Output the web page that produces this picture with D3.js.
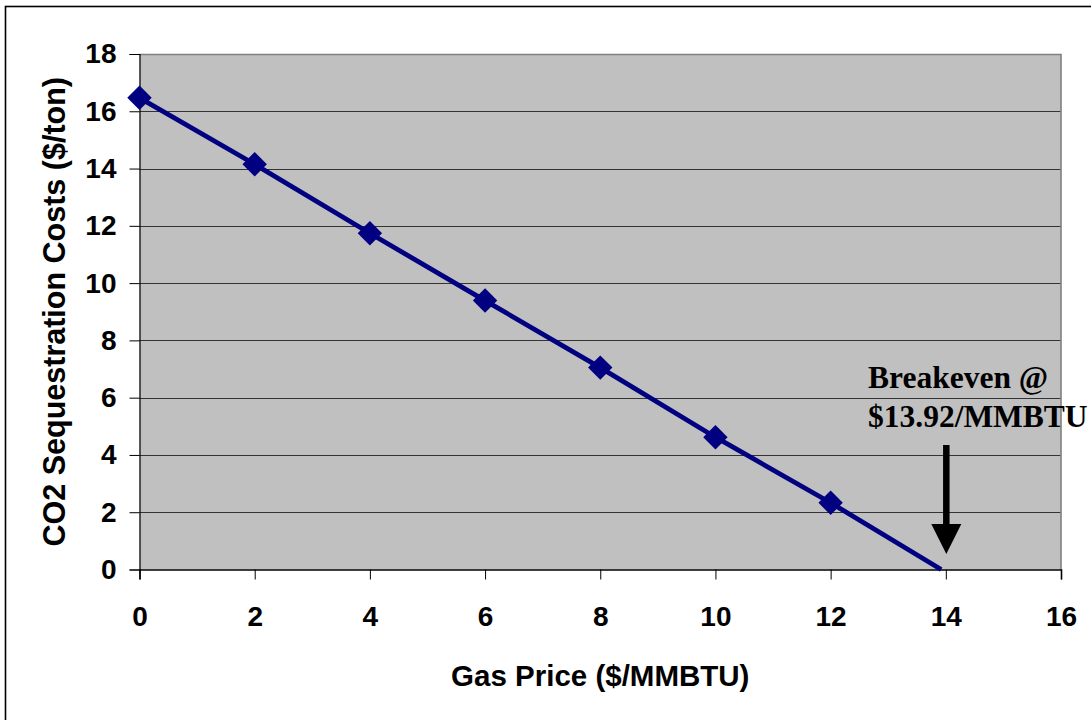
<!DOCTYPE html>
<html>
<head>
<meta charset="utf-8">
<script src="https://cdn.jsdelivr.net/npm/d3@7"></script>
<style>
  html, body { margin: 0; padding: 0; background: #fff; }
  svg { display: block; }
</style>
</head>
<body>
<svg id="chart" width="1091" height="720"></svg>
<script>
// Gas price (x) vs. CO2 sequestration cost (y)
const gasPrice = [0, 2, 4, 6, 8, 10, 12];
const seqCost = [16.47, 14.15, 11.74, 9.39, 7.05, 4.62, 2.33];
const breakevenPrice = 13.92;
const breakevenCost = 0;
const xTicks = [0, 2, 4, 6, 8, 10, 12, 14, 16];
const yTicks = [0, 2, 4, 6, 8, 10, 12, 14, 16, 18];
const xTitle = "Gas Price ($/MMBTU)";
const yTitle = "CO2 Sequestration Costs ($/ton)";
const noteLines = ["Breakeven @", "$13.92/MMBTU"];

const svg = d3.select("#chart");
const W = 1091, H = 720;
const plot = { left: 139.5, right: 1061, top: 54, bottom: 569.5 };
const sans = "Liberation Sans, Arial, sans-serif";

const x = d3.scaleLinear().domain([0, 16]).range([plot.left, plot.right]);
const y = d3.scaleLinear().domain([0, 18]).range([plot.bottom, plot.top]);

// outer chart frame
svg.append("rect")
  .attr("x", 5.5).attr("y", 6.5)
  .attr("width", W + 10).attr("height", H + 10)
  .attr("fill", "#fff").attr("stroke", "#000").attr("stroke-width", 1.6);

// plot background
svg.append("rect")
  .attr("x", plot.left).attr("y", plot.top)
  .attr("width", plot.right - plot.left).attr("height", plot.bottom - plot.top)
  .attr("fill", "#c0c0c0");

// horizontal gridlines
svg.append("g")
  .selectAll("line")
  .data(yTicks.filter(d => d > 0 && d < 18))
  .join("line")
  .attr("x1", plot.left).attr("x2", plot.right)
  .attr("y1", d => Math.round(y(d)) + 0.5).attr("y2", d => Math.round(y(d)) + 0.5)
  .attr("stroke", "#333").attr("stroke-width", 1);

// plot border (top / right) in grey
svg.append("path")
  .attr("d", `M${plot.left},${plot.top + 0.5}H${plot.right}V${plot.bottom}`)
  .attr("fill", "none").attr("stroke", "#808080").attr("stroke-width", 1.6);

// y axis
const yAxis = d3.axisLeft(y).tickValues(yTicks).tickSize(10).tickPadding(13).tickFormat(d3.format("d"));
const gy = svg.append("g").attr("transform", `translate(${plot.left},0)`).call(yAxis);
gy.select(".domain").attr("stroke", "#000").attr("stroke-width", 1.2);
gy.selectAll(".tick line").attr("stroke", "#000").attr("stroke-width", 1);
gy.selectAll(".tick text")
  .attr("font-family", sans)
  .attr("font-weight", "bold").attr("font-size", 28).attr("fill", "#000");

// x axis
const xAxis = d3.axisBottom(x).tickValues(xTicks).tickSize(10).tickPadding(27).tickFormat(d3.format("d"));
const gx = svg.append("g").attr("transform", `translate(0,${plot.bottom})`).call(xAxis);
gx.select(".domain").attr("stroke", "#000").attr("stroke-width", 1.6);
gx.selectAll(".tick line").attr("stroke", "#000").attr("stroke-width", 1);
gx.selectAll(".tick text")
  .attr("font-family", sans)
  .attr("font-weight", "bold").attr("font-size", 28).attr("fill", "#000");

// axis titles
svg.append("text")
  .attr("x", (plot.left + plot.right) / 2).attr("y", 686)
  .attr("text-anchor", "middle")
  .attr("font-family", sans)
  .attr("font-weight", "bold").attr("font-size", 29.5)
  .text(xTitle);

svg.append("text")
  .attr("transform", `translate(65,${(plot.top + plot.bottom) / 2}) rotate(-90)`)
  .attr("text-anchor", "middle")
  .attr("font-family", sans)
  .attr("font-weight", "bold").attr("font-size", 30.5)
  .text(yTitle);

// series line, running on to the breakeven point
const linePts = gasPrice.map((g, i) => [g, seqCost[i]]).concat([[breakevenPrice, breakevenCost]]);
svg.append("path")
  .datum(linePts)
  .attr("d", d3.line().x(d => x(d[0])).y(d => y(d[1])))
  .attr("fill", "none").attr("stroke", "#000080").attr("stroke-width", 4.8);

// diamond markers
const diamond = d3.symbol().type(d3.symbolDiamond2).size(380);
svg.append("g")
  .selectAll("path")
  .data(gasPrice.map((g, i) => [g, seqCost[i]]))
  .join("path")
  .attr("transform", d => `translate(${x(d[0])},${y(d[1])})`)
  .attr("d", diamond)
  .attr("fill", "#000080");

// breakeven annotation
const ax = x(14) + 0.5;
svg.append("text")
  .attr("font-family", "Liberation Serif, Times New Roman, serif")
  .attr("font-weight", "bold").attr("font-size", 31.5).attr("fill", "#000")
  .selectAll("tspan")
  .data(noteLines)
  .join("tspan")
  .attr("x", 868)
  .attr("y", (d, i) => 388 + i * 39)
  .text(d => d);

svg.append("line")
  .attr("x1", ax).attr("x2", ax)
  .attr("y1", 445).attr("y2", 526)
  .attr("stroke", "#000").attr("stroke-width", 6.5);
svg.append("path")
  .attr("d", `M${ax - 15},524L${ax + 15},524L${ax},554Z`)
  .attr("fill", "#000");
</script>
</body>
</html>
